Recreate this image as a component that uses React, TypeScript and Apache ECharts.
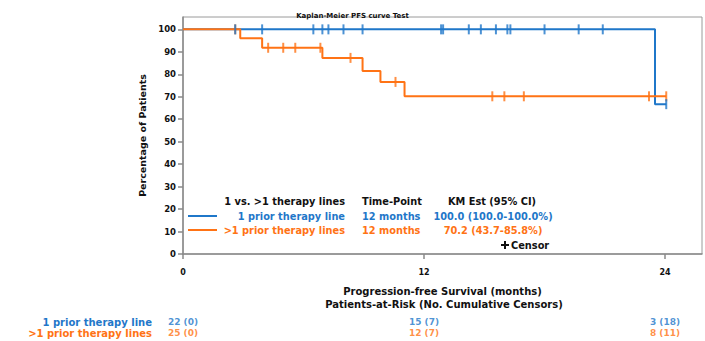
import React, { useEffect, useRef } from 'react';
import * as echarts from 'echarts';

const chartTitle = 'Kaplan-Meier PFS curve Test';
const groupNames = ['1 prior therapy line', '>1 prior therapy lines'];
const groupColors = ['#1f77c9', '#ff7315'];

// KM step curves: [month, survival %]
const blueTimes = [0, 23.5, 24.06];
const blueSurv = [100, 66.7, 66.7];
const orangeTimes = [0, 2.85, 3.94, 6.94, 8.94, 9.83, 11.03, 24.06];
const orangeSurv = [100, 96.0, 91.8, 87.3, 81.5, 76.6, 70.2, 70.2];

// censor times
const blueCensorTimes = [2.6, 3.94, 6.49, 6.94, 7.24, 7.99, 8.94, 12.85, 12.95, 14.23, 14.83, 15.58, 16.15, 16.3, 18.0, 19.7, 20.9, 24.06];
const orangeCensorTimes = [2.6, 4.24, 4.99, 5.59, 6.84, 8.34, 10.58, 15.4, 16.0, 16.97, 23.2, 24.06];

// axes
const xTicks = [0, 12, 24];
const yTicks = [0, 10, 20, 30, 40, 50, 60, 70, 80, 90, 100];
const xMax = 25.84;
const yMax = 105.5;

// at-risk table
const riskTimes = [0, 12, 24];
const blueRisk = ['22 (0)', '15 (7)', '3 (18)'];
const orangeRisk = ['25 (0)', '12 (7)', '8 (11)'];

// legend table
const legendHeader = ['1 vs. >1 therapy lines', 'Time-Point', 'KM Est (95% CI)'];
const legendTimePoint = ['12 months', '12 months'];
const legendEst = ['100.0 (100.0-100.0%)', '70.2 (43.7-85.8%)'];

const FONT = 'DejaVu Sans';

function survAt(times: number[], surv: number[], t: number) {
  let s = surv[0];
  for (let i = 0; i < times.length; i++) {
    if (times[i] <= t) s = surv[i];
  }
  return s;
}

export default function App() {
  const ref = useRef<HTMLDivElement>(null);
  useEffect(() => {
    if (!ref.current) return;
    const chart = echarts.init(ref.current, null, { renderer: 'svg' });
    const txt = (text: string, x: number, y: number, color: string, align: string, size = 9.8) => ({
      type: 'text',
      x,
      y,
      style: { text, fill: color, font: `bold ${size}px "${FONT}"`, align, verticalAlign: 'middle' },
    });
    const legendRowsY = [216, 230];
    const graphic: any[] = [
      txt(legendHeader[0], 345, 201, '#111', 'right'),
      txt(legendHeader[1], 362, 201, '#111', 'left'),
      txt(legendHeader[2], 492, 201, '#111', 'center'),
      { type: 'line', shape: { x1: 188, y1: 216, x2: 217, y2: 216 }, style: { stroke: groupColors[0], lineWidth: 2 } },
      { type: 'line', shape: { x1: 188, y1: 230, x2: 217, y2: 230 }, style: { stroke: groupColors[1], lineWidth: 2 } },
      { type: 'line', shape: { x1: 501, y1: 245, x2: 509, y2: 245 }, style: { stroke: '#111', lineWidth: 2 } },
      { type: 'line', shape: { x1: 505, y1: 241, x2: 505, y2: 249 }, style: { stroke: '#111', lineWidth: 2 } },
      txt('Censor', 511, 245, '#111', 'left'),
      txt('Patients-at-Risk (No. Cumulative Censors)', 444, 304, '#111', 'center', 10),
    ];
    groupNames.forEach((g, i) => {
      graphic.push(txt(g, 345, legendRowsY[i], groupColors[i], 'right'));
      graphic.push(txt(legendTimePoint[i], 362, legendRowsY[i], groupColors[i], 'left'));
      graphic.push(txt(legendEst[i], 493, legendRowsY[i], groupColors[i], 'center'));
    });

    const censorSeries = (times: number[], sTimes: number[], sSurv: number[], color: string) => ({
      type: 'scatter',
      xAxisIndex: 0,
      yAxisIndex: 0,
      symbol: 'rect',
      symbolSize: [2, 10],
      itemStyle: { color },
      silent: true,
      data: times.map((t) => [t, survAt(sTimes, sSurv, t)]),
      z: 3,
    });
    const riskSeries = (vals: string[], row: number, color: string) => ({
      type: 'scatter',
      xAxisIndex: 1,
      yAxisIndex: 1,
      symbolSize: 1,
      itemStyle: { color: 'rgba(0,0,0,0)' },
      label: {
        show: true,
        position: 'inside',
        formatter: (p: any) => p.value[2],
        color,
        fontFamily: FONT,
        fontWeight: 'bold',
        fontSize: 9,
      },
      data: riskTimes.map((t, i) => [t, row, vals[i]]),
    });

    chart.setOption({
      animation: false,
      backgroundColor: '#fff',
      title: {
        text: chartTitle,
        left: 'center',
        top: 7,
        textStyle: { fontFamily: FONT, fontWeight: 'bold', fontSize: 7, color: '#111' },
      },
      grid: [
        { left: 183, right: 3, top: 17, bottom: 87, show: true, borderColor: '#9a9a9a', borderWidth: 1 },
        { left: 183, right: 3, top: 316.5, height: 22 },
      ],
      xAxis: [
        {
          type: 'value',
          gridIndex: 0,
          min: 0,
          max: xMax,
          splitLine: { show: false },
          axisLine: { show: true, lineStyle: { color: '#8a8a8a', width: 1.5 } },
          axisTick: { show: true, customValues: xTicks, length: 5, lineStyle: { color: '#8a8a8a', width: 1.5 } },
          axisLabel: { customValues: xTicks, margin: 14, fontFamily: FONT, fontWeight: 'bold', fontSize: 8, color: '#111' },
          name: 'Progression-free Survival (months)',
          nameLocation: 'middle',
          nameGap: 32,
          nameTextStyle: { fontFamily: FONT, fontWeight: 'bold', fontSize: 10, color: '#111' },
        },
        { type: 'value', gridIndex: 1, min: 0, max: xMax, show: false },
      ],
      yAxis: [
        {
          type: 'value',
          gridIndex: 0,
          min: 0,
          max: yMax,
          splitLine: { show: false },
          axisLine: { show: true, lineStyle: { color: '#8a8a8a', width: 1.5 } },
          axisTick: { show: true, customValues: yTicks, length: 5, lineStyle: { color: '#8a8a8a', width: 1.5 } },
          axisLabel: { customValues: yTicks, margin: 7, fontFamily: FONT, fontWeight: 'bold', fontSize: 8.5, color: '#111' },
          name: 'Percentage of Patients',
          nameLocation: 'middle',
          nameGap: 31,
          nameTextStyle: { fontFamily: FONT, fontWeight: 'bold', fontSize: 9.5, color: '#111' },
        },
        {
          type: 'category',
          gridIndex: 1,
          inverse: true,
          data: groupNames,
          axisLine: { show: false },
          axisTick: { show: false },
          splitLine: { show: false },
          axisLabel: {
            interval: 0,
            hideOverlap: false,
            margin: 31,
            formatter: (v: string, i: number) => `{c${i}|${v}}`,
            rich: {
              c0: { color: groupColors[0], fontFamily: FONT, fontWeight: 'bold', fontSize: 10 },
              c1: { color: groupColors[1], fontFamily: FONT, fontWeight: 'bold', fontSize: 10 },
            },
          },
        },
      ],
      series: [
        {
          type: 'line',
          step: 'end',
          xAxisIndex: 0,
          yAxisIndex: 0,
          symbol: 'none',
          lineStyle: { color: groupColors[0], width: 2 },
          data: blueTimes.map((t, i) => [t, blueSurv[i]]),
          z: 2,
        },
        {
          type: 'line',
          step: 'end',
          xAxisIndex: 0,
          yAxisIndex: 0,
          symbol: 'none',
          lineStyle: { color: groupColors[1], width: 2 },
          data: orangeTimes.map((t, i) => [t, orangeSurv[i]]),
          z: 2,
        },
        censorSeries(orangeCensorTimes, orangeTimes, orangeSurv, groupColors[1]),
        censorSeries(blueCensorTimes, blueTimes, blueSurv, groupColors[0]),
        riskSeries(blueRisk, 0, groupColors[0]),
        riskSeries(orangeRisk, 1, groupColors[1]),
      ],
      graphic,
    });
    return () => chart.dispose();
  }, []);
  return <div ref={ref} style={{ position: 'fixed', left: 0, top: 0, width: 705, height: 341 }} />;
}
